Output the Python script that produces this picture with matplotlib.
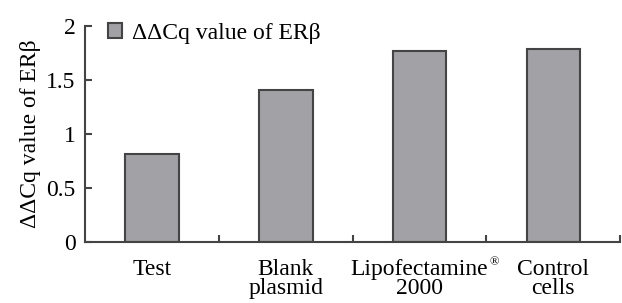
import matplotlib
matplotlib.use('Agg')
import matplotlib.pyplot as plt

categories = ["Test", "Blank\nplasmid", "Lipofectamine\n2000", "Control\ncells"]
values = [0.82, 1.41, 1.77, 1.79]
yticks = [0, 0.5, 1, 1.5, 2]
ytick_labels = ["0", "0.5", "1", "1.5", "2"]
series_name = "ΔΔCq value of ERβ"

FONT_SIZE = 17
plt.rcParams.update({'font.family': 'serif',
                     'font.serif': ['Liberation Serif', 'DejaVu Serif'],
                     'font.size': FONT_SIZE})

fig = plt.figure(figsize=(6.22, 3.03), dpi=100)
ax = fig.add_axes([0.137, 0.201, 0.860, 0.713])

x = list(range(len(categories)))
ax.bar(x, values, width=0.4, color='#a2a2a6', edgecolor='#444444',
       linewidth=1.5, label=series_name)

ax.set_xlim(-0.5, 3.5)
ax.set_ylim(0, 2)
ax.set_yticks(yticks)
ax.set_yticklabels(ytick_labels)
ax.set_xticks(x)
labels = ax.set_xticklabels(categories, linespacing=0.9)
ax.tick_params(axis='x', length=0, pad=12)
ax.tick_params(axis='y', direction='in', length=5, width=1.5, color='#444444', pad=7)
ax.set_xticks([0.5, 1.5, 2.5, 3.5], minor=True)
ax.tick_params(axis='x', which='minor', direction='in', length=5, width=1.5, color='#444444')

# small registered mark after "Lipofectamine"
ax.annotate("®", xy=(1, 1), xycoords=labels[2], xytext=(0.5, 2),
            textcoords='offset points', fontsize=9, ha='left', va='top')

for s in ['top', 'right']:
    ax.spines[s].set_visible(False)
for s in ['left', 'bottom']:
    ax.spines[s].set_color('#444444')
    ax.spines[s].set_linewidth(1.5)

ax.set_ylabel(series_name, labelpad=4)
ax.legend(loc='upper left', bbox_to_anchor=(0.025, 1.06), frameon=False,
          handlelength=0.6, handleheight=0.6, handletextpad=0.4, borderaxespad=0)

plt.savefig("out.png", dpi=100)
